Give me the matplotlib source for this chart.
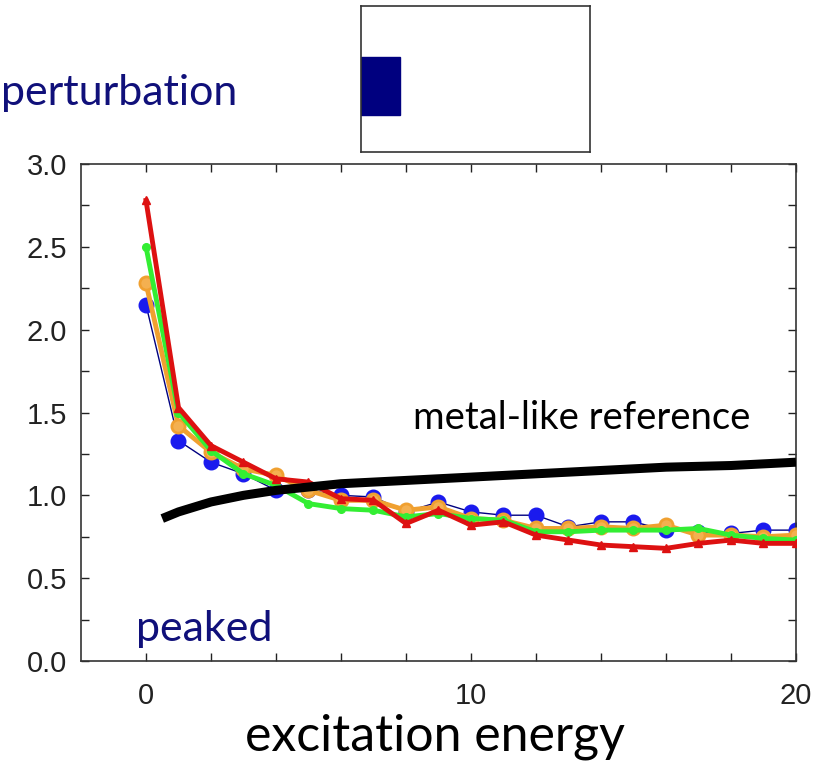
import matplotlib
matplotlib.use("Agg")
import matplotlib.pyplot as plt
from matplotlib.patches import Rectangle

# excitation energy steps
energy = list(range(21))

blue = [2.15, 1.33, 1.20, 1.13, 1.03, 1.03, 1.00, 0.99, 0.90, 0.96, 0.90, 0.88,
        0.88, 0.81, 0.84, 0.84, 0.79, 0.78, 0.77, 0.79, 0.79]
orange = [2.28, 1.42, 1.26, 1.16, 1.12, 1.03, 0.97, 0.97, 0.91, 0.93, 0.86, 0.85,
          0.80, 0.80, 0.81, 0.80, 0.82, 0.76, 0.76, 0.75, 0.76]
green = [2.50, 1.50, 1.27, 1.13, 1.06, 0.95, 0.92, 0.91, 0.87, 0.89, 0.86, 0.85,
         0.78, 0.78, 0.79, 0.79, 0.79, 0.80, 0.76, 0.74, 0.73]
red = [2.78, 1.53, 1.30, 1.20, 1.10, 1.08, 0.98, 0.97, 0.83, 0.91, 0.82, 0.84,
       0.76, 0.73, 0.70, 0.69, 0.68, 0.71, 0.73, 0.71, 0.71]

# metal-like reference curve
ref_x = [0.5, 1, 2, 3, 4, 5, 6, 8, 10, 12, 14, 16, 18, 20]
ref_y = [0.86, 0.90, 0.96, 1.00, 1.03, 1.05, 1.07, 1.09, 1.11, 1.13, 1.15, 1.17, 1.18, 1.20]

W, H = 829, 763
navy = "#10107a"
txt_font = ["Lato", "DejaVu Sans"]

fig = plt.figure(figsize=(W / 100, H / 100), dpi=100)
ax = fig.add_axes([81 / W, 1 - 661 / H, (796 - 81) / W, (661 - 164) / H])

ax.plot(energy, blue, color="#000080", lw=1.0, marker="o", ms=10.5,
        mfc="#1a1aee", mec="#1a1aee", zorder=2)
ax.plot(energy, orange, color="#f0a030", lw=3.5, marker="o", ms=9.5,
        mfc="#f4b050", mec="#f0a030", mew=2, zorder=3)
ax.plot(energy, green, color="#33ee33", lw=3.5, marker="o", ms=5.5,
        mfc="#33ee33", mec="#33ee33", zorder=4)
ax.plot(energy, red, color="#dd1111", lw=3.5, marker="^", ms=6,
        mfc="#dd1111", mec="#dd1111", zorder=5)
ax.plot(ref_x, ref_y, color="black", lw=6.5, solid_capstyle="butt", zorder=6)

ax.set_xlim(-2, 20)
ax.set_ylim(0, 3.0)
ax.set_xticks([0, 10, 20])
ax.set_xticks(range(0, 21, 2), minor=True)
ax.set_yticks([0, 0.5, 1.0, 1.5, 2.0, 2.5, 3.0])
ax.set_yticks([0.25, 0.75, 1.25, 1.75, 2.25, 2.75], minor=True)
ax.set_yticklabels(["0.0", "0.5", "1.0", "1.5", "2.0", "2.5", "3.0"])
for which in ("major", "minor"):
    ax.tick_params(which=which, direction="in", length=6, width=1,
                   top=True, right=True, color="#222222")
ax.tick_params(axis="x", which="major", pad=15, labelsize=21,
               labelcolor="#222222")
ax.tick_params(axis="y", which="major", pad=10, labelsize=21,
               labelcolor="#222222")
for lab in ax.get_xticklabels() + ax.get_yticklabels():
    lab.set_family("Liberation Sans")
for s in ax.spines.values():
    s.set_color("#333333")
    s.set_linewidth(1.2)

ax.text(8.22, 1.40, "metal-like reference", fontsize=27.5, family=txt_font,
        color="black", va="baseline")
ax.text(-0.3, 0.12, "peaked", fontsize=31, family=txt_font,
        color=navy, va="baseline")

fig.text(1 / W, 1 - 105 / H, "perturbation", fontsize=31, family=txt_font,
         color=navy, va="baseline")
fig.text(435 / W, 1 - 750 / H, "excitation energy", fontsize=36,
         family=txt_font, color="black", ha="center", va="baseline")

# small sketch box of the perturbation
inset = fig.add_axes([361 / W, 1 - 152 / H, 229 / W, 146 / H])
inset.set_xlim(0, 229)
inset.set_ylim(0, 146)
inset.set_xticks([])
inset.set_yticks([])
for s in inset.spines.values():
    s.set_color("#333333")
    s.set_linewidth(1.2)
inset.add_patch(Rectangle((0, 146 - 109), 39, 58, color="#00007f"))

fig.savefig("out.png", dpi=100)
